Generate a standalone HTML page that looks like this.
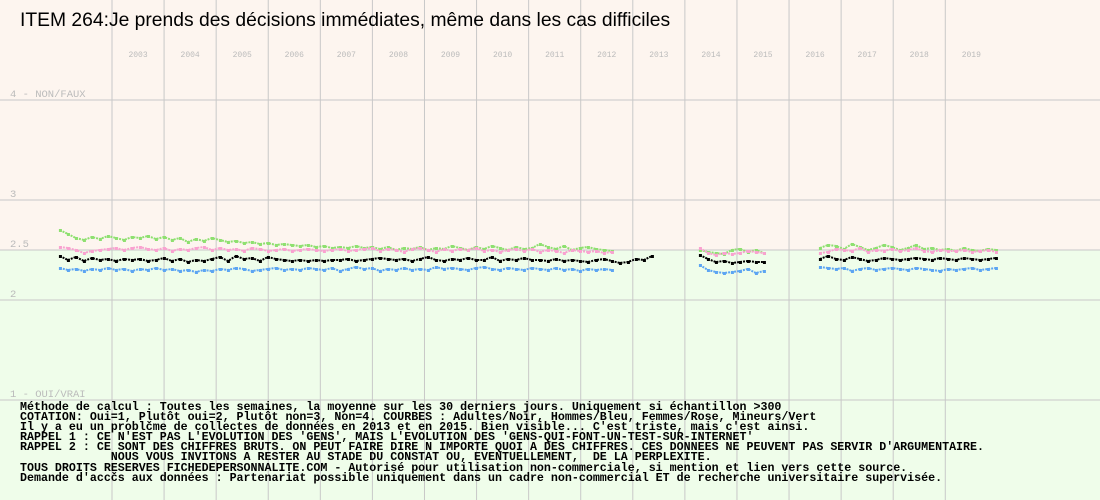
<!DOCTYPE html>
<html><head><meta charset="utf-8"><style>
body{margin:0;}
#wrap{position:relative;width:1100px;height:500px;overflow:hidden;background:#fdf5ef;}
svg{position:absolute;left:0;top:0;}
.foot{position:absolute;left:20px;top:403px;font-family:"Liberation Mono",monospace;font-weight:bold;font-size:11.65px;line-height:10.1px;white-space:pre;color:#000;}
.title{position:absolute;left:20px;top:10px;font-family:"Liberation Sans",sans-serif;font-size:19.3px;color:#000;}
</style></head><body>
<div id="wrap">
<svg id="chart" width="1100" height="500"></svg>
<div class="title">ITEM 264:Je prends des décisions immédiates, même dans les cas difficiles</div>
<div class="foot">Méthode de calcul : Toutes les semaines, la moyenne sur les 30 derniers jours. Uniquement si échantillon >300
COTATION: Oui=1, Plutôt oui=2, Plutôt non=3, Non=4. COURBES : Adultes/Noir, Hommes/Bleu, Femmes/Rose, Mineurs/Vert
Il y a eu un problčme de collectes de données en 2013 et en 2015. Bien visible... C'est triste, mais c'est ainsi.
RAPPEL 1 : CE N'EST PAS L'EVOLUTION DES 'GENS', MAIS L'EVOLUTION DES 'GENS-QUI-FONT-UN-TEST-SUR-INTERNET'
RAPPEL 2 : CE SONT DES CHIFFRES BRUTS. ON PEUT FAIRE DIRE N IMPORTE QUOI A DES CHIFFRES. CES DONNEES NE PEUVENT PAS SERVIR D'ARGUMENTAIRE.
             NOUS VOUS INVITONS A RESTER AU STADE DU CONSTAT OU, EVENTUELLEMENT,  DE LA PERPLEXITE.
TOUS DROITS RESERVES FICHEDEPERSONNALITE.COM - Autorisé pour utilisation non-commerciale, si mention et lien vers cette source.
Demande d'accčs aux données : Partenariat possible uniquement dans un cadre non-commercial ET de recherche universitaire supervisée.</div>
</div>
<script>
const years=[2003,2004,2005,2006,2007,2008,2009,2010,2011,2012,2013,2014,2015,2016,2017,2018,2019];
const yTicks=[4,3,2.5,2,1];
const yTickLabels=["4 - NON/FAUX","3","2.5","2","1 - OUI/VRAI"];
const startYear=2002.0;
const stepWeeks=8;
const N=null;
const adults=[2.44,2.40,2.43,2.39,2.42,2.40,2.41,2.39,2.41,2.40,
2.41,2.39,2.40,2.42,2.39,2.41,2.38,2.40,2.39,2.41,
2.43,2.39,2.44,2.41,2.42,2.39,2.43,2.41,2.40,2.39,
2.40,2.39,2.40,2.39,2.40,2.40,2.41,2.39,2.40,2.41,
2.42,2.41,2.40,2.41,2.39,2.41,2.43,2.40,2.39,2.41,
2.40,2.42,2.40,2.40,2.43,2.39,2.41,2.40,2.42,2.40,
2.40,2.39,2.41,2.39,2.40,2.39,2.38,2.40,2.41,2.39,
2.37,2.38,2.41,2.40,2.44,N,N,N,N,N,
2.45,2.41,2.38,2.39,2.37,2.38,2.39,2.38,2.38,N,N,N,N,N,N,
2.41,2.44,2.41,2.40,2.43,2.41,2.39,2.40,2.42,2.41,2.40,2.41,2.42,2.41,2.40,2.42,2.41,2.40,2.42,2.41,2.40,2.41,2.42];
const women=[2.53,2.52,2.50,2.47,2.49,2.50,2.51,2.52,2.50,2.52,
2.53,2.51,2.50,2.52,2.49,2.51,2.50,2.52,2.53,2.50,
2.52,2.50,2.51,2.49,2.52,2.51,2.49,2.50,2.51,2.49,
2.50,2.51,2.50,2.49,2.50,2.51,2.49,2.50,2.51,2.52,
2.49,2.51,2.50,2.48,2.51,2.52,2.50,2.48,2.51,2.49,
2.51,2.50,2.52,2.49,2.50,2.48,2.50,2.51,2.49,2.51,
2.48,2.50,2.49,2.47,2.50,2.49,2.48,2.49,2.47,2.48,
N,N,N,N,N,N,N,N,N,N,
2.52,2.47,2.45,2.47,2.46,2.47,2.49,2.48,2.47,N,N,N,N,N,N,
2.47,2.48,2.51,2.50,2.49,2.52,2.48,2.50,2.49,2.51,2.49,2.50,2.52,2.49,2.48,2.50,2.49,2.49,2.50,2.48,2.49,2.50,2.48];
const minors=[2.70,2.66,2.62,2.60,2.63,2.61,2.64,2.62,2.60,2.63,
2.62,2.64,2.61,2.63,2.60,2.62,2.58,2.61,2.59,2.62,
2.60,2.58,2.59,2.57,2.58,2.56,2.57,2.55,2.56,2.55,
2.54,2.55,2.53,2.54,2.52,2.53,2.52,2.54,2.52,2.53,
2.51,2.53,2.50,2.52,2.51,2.53,2.50,2.52,2.51,2.54,
2.52,2.50,2.53,2.51,2.54,2.52,2.50,2.53,2.51,2.52,
2.56,2.53,2.51,2.54,2.50,2.52,2.53,2.51,2.50,2.49,
N,N,N,N,N,N,N,N,N,N,
2.50,2.48,2.47,2.46,2.50,2.51,2.48,2.50,2.47,N,N,N,N,N,N,
2.52,2.55,2.54,2.51,2.56,2.53,2.50,2.52,2.55,2.53,2.50,2.52,2.55,2.51,2.52,2.50,2.51,2.49,2.52,2.50,2.49,2.51,2.50];
const men=[2.32,2.30,2.31,2.29,2.31,2.30,2.32,2.30,2.31,2.29,
2.31,2.30,2.32,2.30,2.31,2.29,2.30,2.28,2.30,2.29,
2.31,2.30,2.32,2.31,2.29,2.30,2.31,2.32,2.30,2.31,
2.30,2.32,2.31,2.30,2.32,2.29,2.31,2.33,2.31,2.32,
2.29,2.31,2.30,2.32,2.30,2.31,2.30,2.33,2.31,2.32,
2.31,2.30,2.32,2.33,2.31,2.30,2.32,2.31,2.30,2.32,
2.31,2.30,2.32,2.30,2.31,2.29,2.31,2.30,2.31,2.30,
N,N,N,N,N,N,N,N,N,N,
2.35,2.30,2.28,2.27,2.28,2.29,2.31,2.27,2.29,N,N,N,N,N,N,
2.33,2.32,2.31,2.32,2.29,2.31,2.32,2.30,2.31,2.32,2.31,2.30,2.32,2.31,2.30,2.29,2.31,2.30,2.31,2.32,2.30,2.31,2.32];

const NS="http://www.w3.org/2000/svg";
const svg=document.getElementById('chart');
const xScale=y=>112+(y-2003)*52.08;
const yScale=v=>400-(v-1)*100;
function mk(tag,attrs){const e=document.createElementNS(NS,tag);for(const k in attrs)e.setAttribute(k,attrs[k]);svg.appendChild(e);return e;}
const bg=mk('rect',{x:0,y:yScale(2.5),width:1100,height:500-yScale(2.5),fill:'#effdea'});


yTicks.forEach((t,i)=>{
  const l=mk('line',{x1:0,x2:1100,y1:yScale(t),y2:yScale(t),stroke:'#c8c8c8','stroke-width':1});
  
  
  const tx=mk('text',{x:10,y:yScale(t)-3,fill:'#bbbbbb','font-family':'Liberation Mono, monospace','font-size':10.5});
  tx.textContent=yTickLabels[i];
  
  
});
years.forEach(yr=>{
  const l=mk('line',{x1:xScale(yr),x2:xScale(yr),y1:0,y2:500,stroke:'#c8c8c8','stroke-width':1});
  
  
  const tx=mk('text',{x:xScale(yr+0.5),y:57,fill:'#bbbbbb','font-family':'Liberation Mono, monospace','font-size':8,'text-anchor':'middle'});
  tx.textContent=String(yr);
  
  
});
function drawSeries(vals,color,name){
  const g=document.createElementNS(NS,'g');svg.appendChild(g);
  
  
  let seg=[];
  const flush=()=>{if(seg.length>1){const p=document.createElementNS(NS,'polyline');p.setAttribute('points',seg.join(' '));p.setAttribute('fill','none');p.setAttribute('stroke',color);p.setAttribute('stroke-width',2);p.setAttribute('stroke-dasharray','2 1');g.appendChild(p);
    
    }seg=[];};
  vals.forEach((v,i)=>{
    if(v===null){flush();return;}
    const x=xScale(startYear+i*stepWeeks/52.08),y=yScale(v);
    seg.push(x.toFixed(1)+','+y.toFixed(1));
    const r=document.createElementNS(NS,'rect');r.setAttribute('x',x-1);r.setAttribute('y',y-1);r.setAttribute('width',3);r.setAttribute('height',3);r.setAttribute('fill',color);g.appendChild(r);
    
    
  });
  flush();
}
drawSeries(minors,'#8ee070','series-minors-green');
drawSeries(women,'#f9a2d0','series-women-pink');
drawSeries(men,'#5da5f2','series-men-blue');
drawSeries(adults,'#000000','series-adults-black');
</script>
</body></html>
